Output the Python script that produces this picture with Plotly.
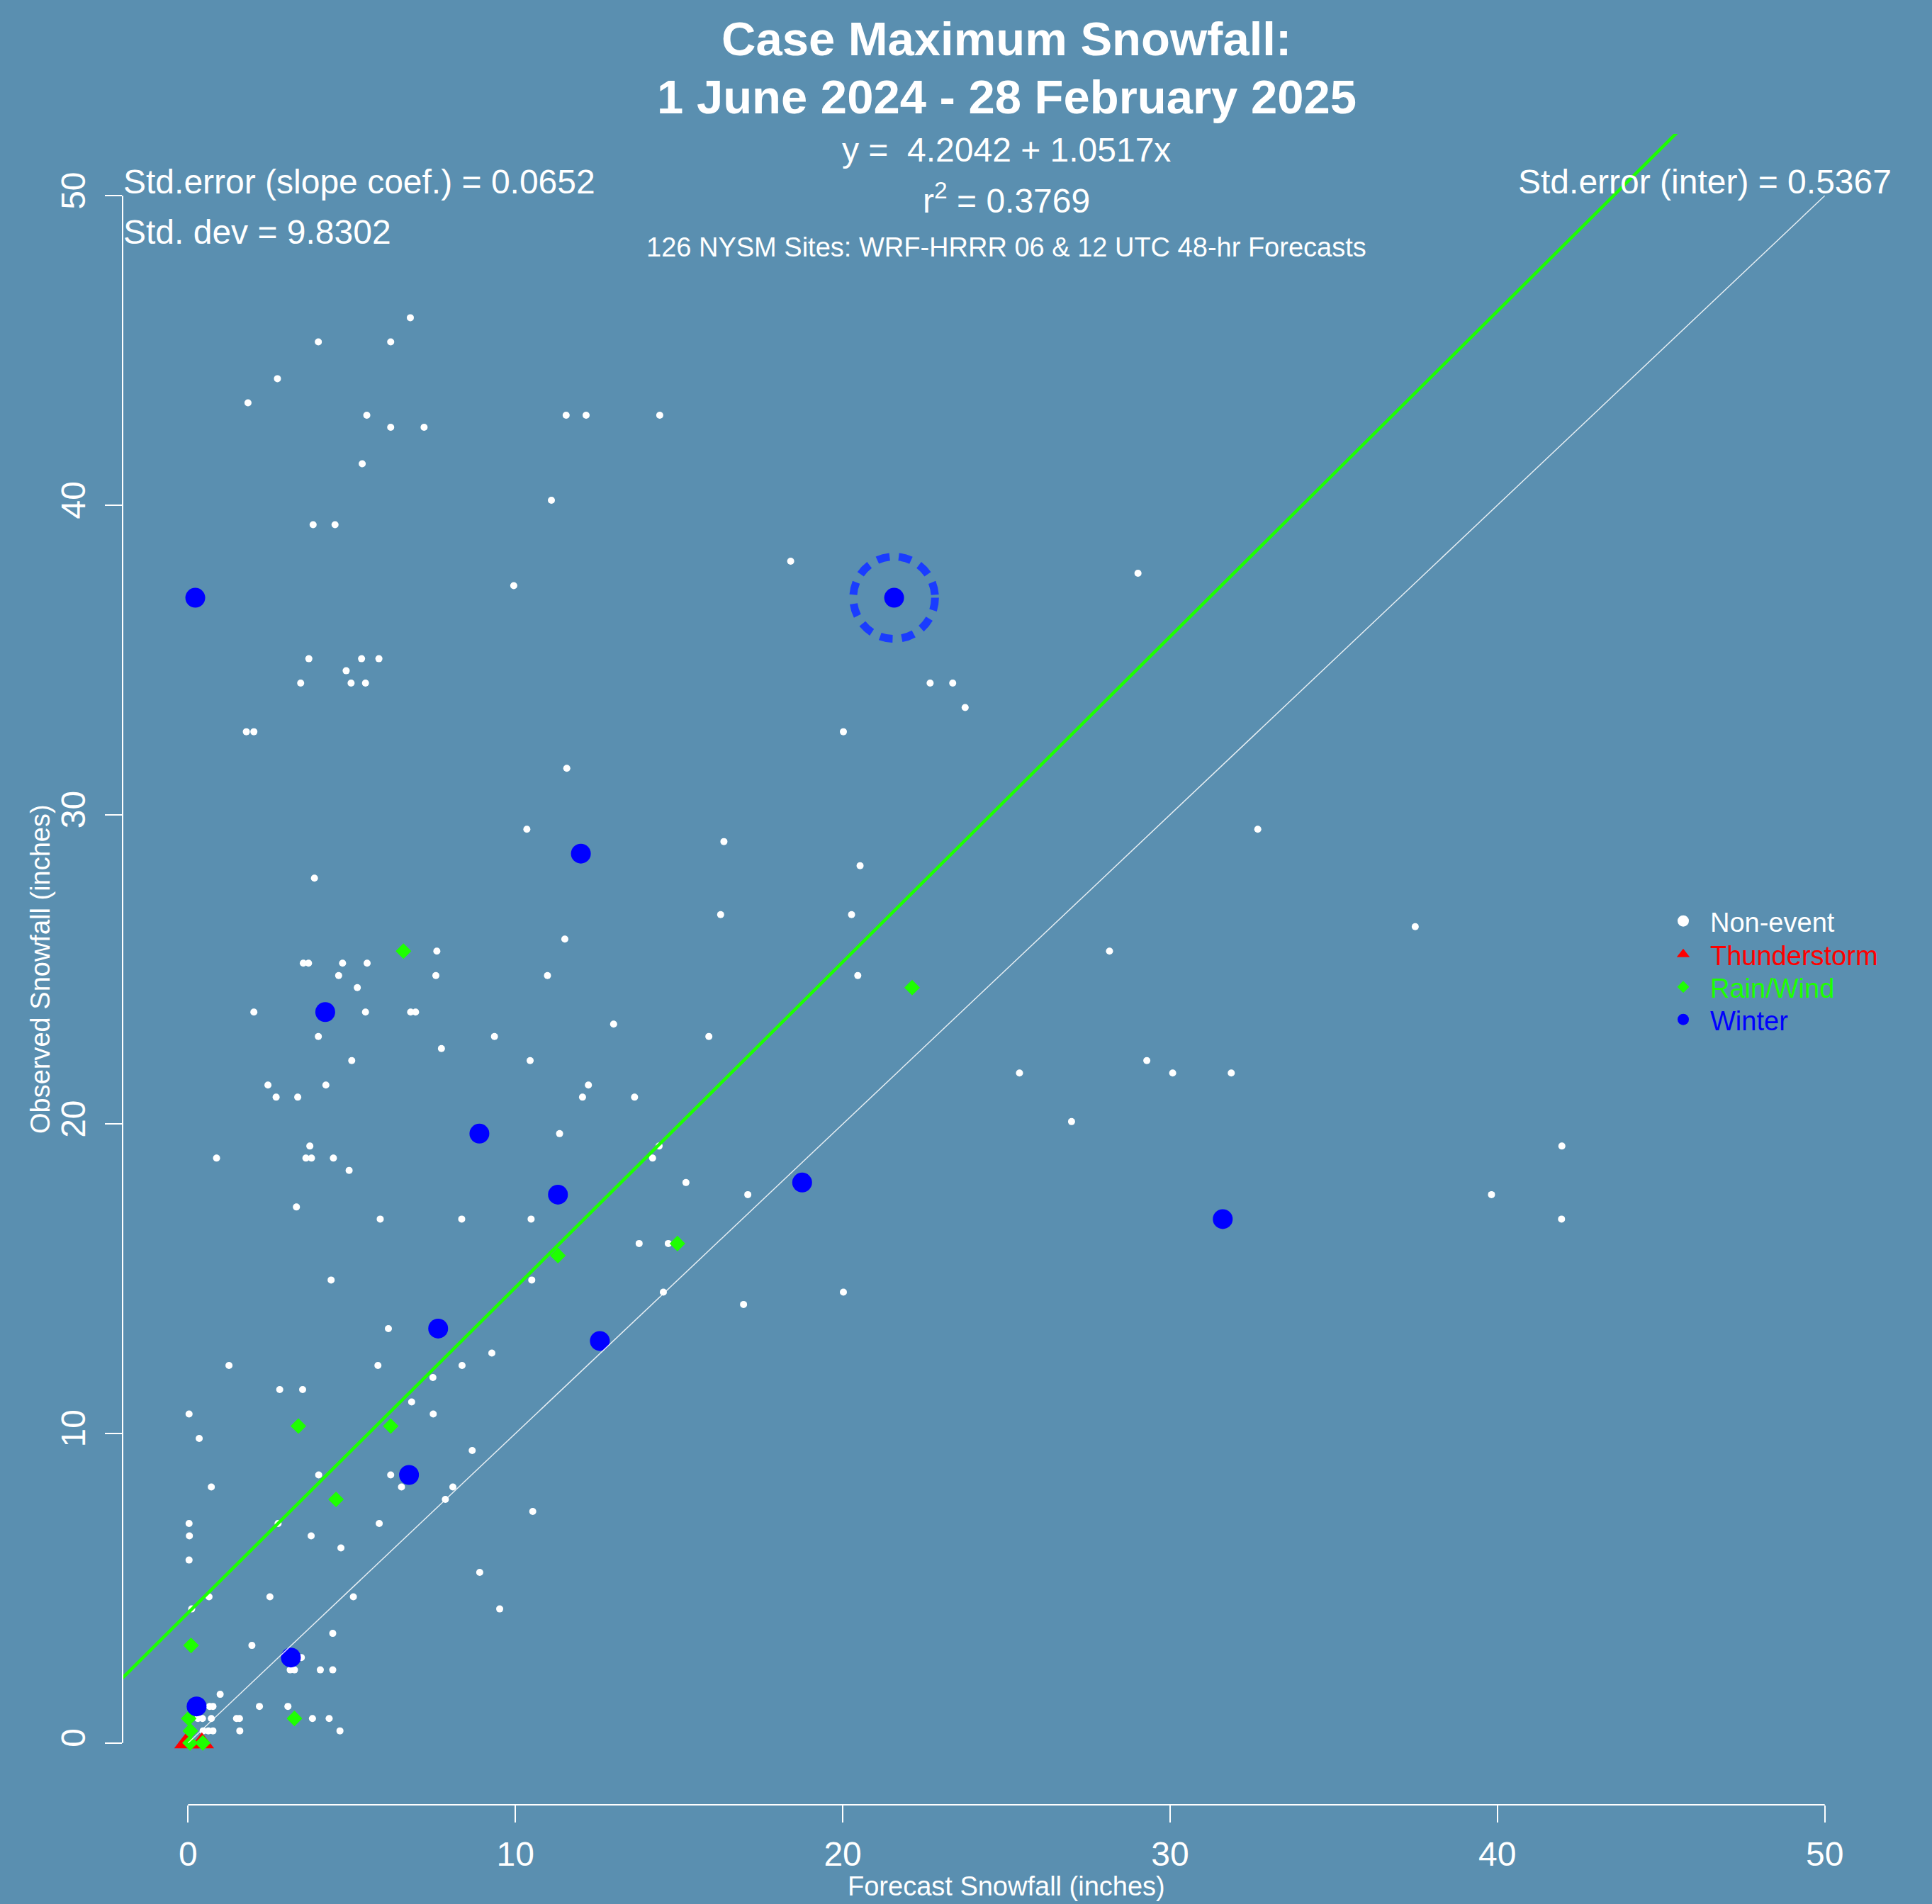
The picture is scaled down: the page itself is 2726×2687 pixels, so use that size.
import plotly.graph_objects as go

# ---------------- data (forecast, observed snowfall in inches) ----------------
nonevent_fcst = [
    6.79, 3.98, 6.19, 2.73, 1.83, 5.46, 6.19, 7.21, 11.55, 12.16, 14.41, 5.32, 11.10, 3.82, 4.49,
    9.95, 3.69, 5.30, 5.83, 4.83, 3.44, 4.98, 5.42, 1.78, 2.01, 11.57, 10.35,
    18.41, 29.02, 22.67, 23.36, 23.74, 20.02, 32.68, 20.53, 20.27, 37.49, 28.15, 20.46,
    16.37, 3.86, 16.27, 11.51, 7.60, 3.52, 3.68, 4.72, 5.47, 4.60, 7.57, 10.98, 5.17, 2.01, 5.42,
    6.80, 6.95, 13.00, 3.98, 9.36, 15.91, 7.74, 5.00, 10.45, 2.44, 4.21, 12.23, 2.69, 3.35, 12.05,
    13.64, 11.35, 3.72, 14.39, 0.87, 3.60, 3.77, 4.44, 14.19, 4.92, 15.21, 3.31, 5.87, 8.36, 10.48,
    13.78, 14.67, 4.37, 10.50, 14.52, 6.12,
    29.29, 25.40, 30.08, 31.87, 26.99, 41.97, 17.10, 39.82, 41.96, 20.02, 16.97,
    9.28, 1.25, 5.80, 8.37, 7.48, 2.80, 3.50, 6.83, 0.03, 7.49, 0.34, 8.68, 3.99, 6.19, 0.71, 6.52,
    8.09, 7.86, 10.53, 0.03, 2.75, 5.84, 0.04, 3.76, 4.67, 0.03, 8.91, 0.64, 2.50, 5.05, 0.11, 9.52,
    4.42, 1.95, 3.46, 3.12, 3.25, 4.04, 4.42, 0.98, 0.66, 0.76, 2.18, 3.05, 0.30, 0.44, 0.71, 1.48,
    1.57, 3.80, 4.31, 0.46, 0.62, 0.76, 1.58, 4.64,
]
nonevent_obs = [
    46.06, 45.28, 45.28, 44.09, 43.31, 42.91, 42.52, 42.52, 42.91, 42.91, 42.91, 41.34, 40.16, 39.37, 39.37,
    37.40, 35.04, 35.04, 35.04, 34.65, 34.25, 34.25, 34.25, 32.68, 32.68, 31.50, 29.53,
    38.19, 37.80, 34.25, 34.25, 33.46, 32.68, 29.53, 28.35, 26.77, 26.38, 25.59, 24.80,
    29.13, 27.95, 26.77, 25.98, 25.59, 25.20, 25.20, 25.20, 25.20, 24.80, 24.80, 24.80, 24.41, 23.62, 23.62,
    23.62, 23.62, 23.23, 22.83, 22.83, 22.83, 22.44, 22.05, 22.05, 21.26, 21.26, 21.26, 20.87, 20.87, 20.87,
    20.87, 19.69, 19.29, 19.29, 18.90, 18.90, 18.90, 18.90, 18.90, 18.50, 18.11, 17.32, 16.93, 16.93, 16.93,
    16.14, 16.14, 14.96, 14.96, 14.57, 13.39,
    22.05, 21.65, 21.65, 21.65, 20.08, 19.29, 17.72, 17.72, 16.93, 14.57, 14.17,
    12.60, 12.20, 12.20, 12.20, 11.81, 11.42, 11.42, 11.02, 10.63, 10.63, 9.84, 9.45, 8.66, 8.66, 8.27, 8.27,
    8.27, 7.87, 7.48, 7.09, 7.09, 7.09, 6.69, 6.69, 6.30, 5.91, 5.51, 4.72, 4.72, 4.72, 4.33, 4.33,
    3.54, 3.15, 2.76, 2.36, 2.36, 2.36, 2.36, 1.57, 1.18, 1.18, 1.18, 1.18, 0.79, 0.79, 0.79, 0.79,
    0.79, 0.79, 0.79, 0.39, 0.39, 0.39, 0.39, 0.39,
]
thunder_fcst = [-0.05, 0.42]
thunder_obs = [0.00, 0.00]
rain_fcst = [6.58, 22.12, 14.95, 11.30, 3.37, 6.19, 4.52, 0.09, 3.25, 0.02, 0.07, 0.06, 0.45]
rain_obs = [25.59, 24.41, 16.14, 15.75, 10.24, 10.24, 7.87, 3.15, 0.79, 0.79, 0.39, 0.00, 0.00]
winter_fcst = [0.22, 21.57, 12.00, 4.19, 8.90, 11.30, 18.76, 31.61, 7.64, 12.58, 6.75, 3.14, 0.26]
winter_obs = [37.01, 37.01, 28.74, 23.62, 19.69, 17.72, 18.11, 16.93, 13.39, 12.99, 8.66, 2.76, 1.18]
highlight_index = 1  # winter case circled with the dashed ring

# regression statistics (as printed on chart)
intercept = 4.2042
slope = 1.0517
r2_text = "0.3769"
se_slope_text = "0.0652"
sd_text = "9.8302"
se_inter_text = "0.5367"

tick_values = [0, 10, 20, 30, 40, 50]
tick_labels = ["0", "10", "20", "30", "40", "50"]
axis_range = [-2, 52]

# ---------------- styling ----------------
BG = "#5A8FB0"
FONT = "Liberation Sans, Arial, Helvetica, sans-serif"
W, H = 2726, 2687
ML, MR, MT, MB = 173, 59, 189, 140
PW, PH = W - ML - MR, H - MT - MB


def py(pix):  # figure pixel row -> paper y
    return (H - MB - pix) / PH


def px(pix):  # figure pixel column -> paper x
    return (pix - ML) / PW


fig = go.Figure()

fig.add_trace(go.Scatter(x=nonevent_fcst, y=nonevent_obs, mode="markers", showlegend=False,
                         marker=dict(color="white", size=10, line=dict(width=0))))
fig.add_trace(go.Scatter(x=thunder_fcst, y=thunder_obs, mode="markers", showlegend=False,
                         marker=dict(color="#FF0000", size=30, symbol="triangle-up", line=dict(width=0))))
fig.add_trace(go.Scatter(x=rain_fcst, y=rain_obs, mode="markers", showlegend=False,
                         marker=dict(color="#1EFF00", size=17, symbol="diamond", line=dict(width=0))))
fig.add_trace(go.Scatter(x=winter_fcst, y=winter_obs, mode="markers", showlegend=False,
                         marker=dict(color="#0000FF", size=28, line=dict(width=0))))

# 1:1 line
fig.add_trace(go.Scatter(x=[tick_values[0], tick_values[-1]], y=[tick_values[0], tick_values[-1]],
                         mode="lines", showlegend=False, hoverinfo="skip",
                         line=dict(color="rgba(255,255,255,0.85)", width=1.5)))
# regression line
reg_x = [axis_range[0], axis_range[1]]
reg_y = [intercept + slope * v for v in reg_x]
fig.add_trace(go.Scatter(x=reg_x, y=reg_y, mode="lines", showlegend=False, hoverinfo="skip",
                         line=dict(color="#1EFF00", width=4.5)))

# legend proxies (one small legend per row so the row spacing matches)
legend_items = [
    ("Non-event", "white", "circle", 16),
    ("Thunderstorm", "#FF0000", "triangle-up", 16),
    ("Rain/Wind", "#1EFF00", "diamond", 13),
    ("Winter", "#0000FF", "circle", 16),
]
legend_rows_px = [1300, 1347, 1393, 1439]
legend_layouts = {}
for i, (name, col, sym, sz) in enumerate(legend_items):
    lid = "legend" if i == 0 else f"legend{i + 1}"
    fig.add_trace(go.Scatter(x=[None], y=[None], mode="markers", legend=lid,
                             name=f"<span style='color:{col}'>{name}</span>",
                             marker=dict(color=col, symbol=sym, size=sz, line=dict(width=0))))
    legend_layouts[lid] = dict(x=px(2337), y=py(legend_rows_px[i]), xanchor="left", yanchor="middle",
                               bgcolor="rgba(0,0,0,0)", borderwidth=0, itemwidth=66,
                               font=dict(family=FONT, size=38, color="white"),
                               itemclick=False, itemdoubleclick=False)

# highlight ring
hx, hy = winter_fcst[highlight_index], winter_obs[highlight_index]
rx, ry = 1.25, 1.33
fig.add_shape(type="circle", xref="x", yref="y", x0=hx - rx, x1=hx + rx, y0=hy - ry, y1=hy + ry,
              line=dict(color="#1A3CFF", width=11, dash="18px,13px"))

# axis lines (R style, spanning only the tick range)
fig.add_shape(type="line", xref="x", yref="paper", x0=tick_values[0], x1=tick_values[-1], y0=0, y1=0,
              line=dict(color="white", width=2))
fig.add_shape(type="line", xref="paper", yref="y", x0=0, x1=0, y0=tick_values[0], y1=tick_values[-1],
              line=dict(color="white", width=2))

ann = []


def add_text(text, x, y, size, xanchor="center", angle=0):
    ann.append(dict(text=text, x=x, y=y, xref="paper", yref="paper", xanchor=xanchor, yanchor="middle",
                    showarrow=False, textangle=angle, font=dict(family=FONT, size=size, color="white")))


add_text("<b>Case Maximum Snowfall:</b>", 0.5, py(55), 67)
add_text("<b>1 June 2024 - 28 February 2025</b>", 0.5, py(137), 67)
add_text(f"y = \u00a0{intercept:.4f} + {slope:.4f}x", 0.5, py(212), 48)
add_text(f"r<sup>2</sup> = {r2_text}", 0.5, py(280), 48)
add_text("126 NYSM Sites: WRF-HRRR 06 & 12 UTC 48-hr Forecasts", 0.5, py(349), 38)
add_text(f"Std.error (slope coef.) = {se_slope_text}", px(172), py(256), 48, xanchor="left")
add_text(f"Std. dev = {sd_text}", px(172), py(327), 48, xanchor="left")
add_text(f"Std.error (inter) = {se_inter_text}", px(2671), py(256), 48, xanchor="right")
add_text("Forecast Snowfall (inches)", 0.5, py(2662), 38)
add_text("Observed Snowfall (inches)", px(57), 0.5, 38, angle=-90)

axis_common = dict(range=axis_range, tickvals=tick_values, ticktext=tick_labels, showgrid=False,
                   zeroline=False, showline=False, ticks="outside", ticklen=24, tickwidth=1.5,
                   tickcolor="white", tickfont=dict(family=FONT, size=48, color="white"))

fig.update_layout(
    width=W, height=H, autosize=False,
    margin=dict(l=ML, r=MR, t=MT, b=MB, pad=0),
    paper_bgcolor=BG, plot_bgcolor=BG,
    xaxis=dict(**axis_common, ticklabelstandoff=3),
    yaxis=dict(**axis_common, tickangle=-90, ticklabelstandoff=9),
    annotations=ann,
    showlegend=True,
    font=dict(family=FONT, color="white"),
    **legend_layouts,
)

fig.write_html(
    "out.html",
    config={"displayModeBar": False},
    post_script="document.body.style.margin='0px';document.body.style.backgroundColor='" + BG + "';",
)
